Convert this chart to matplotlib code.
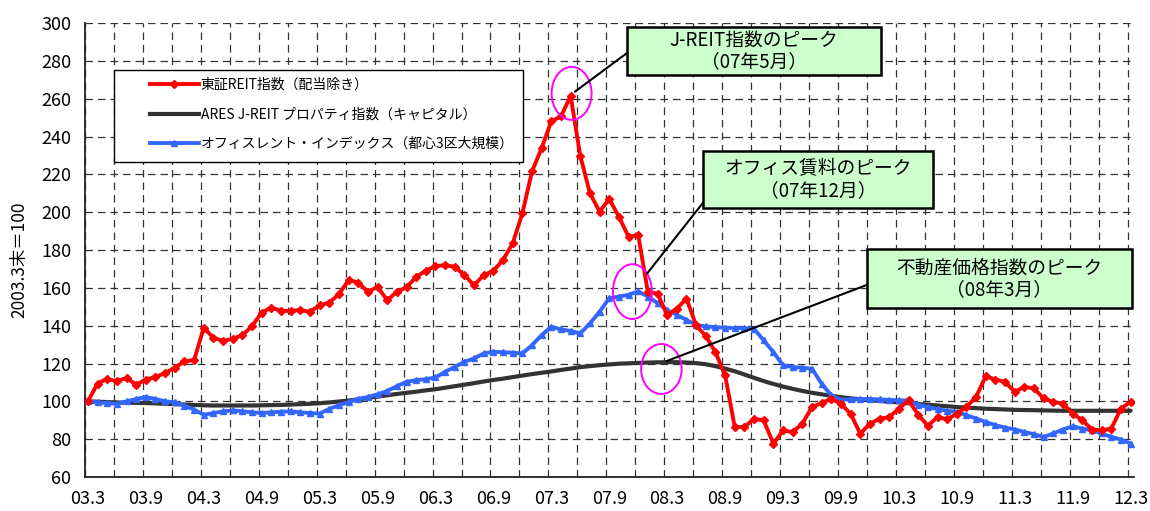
import numpy as np
import matplotlib
matplotlib.use('Agg')
import matplotlib.pyplot as plt
from matplotlib.patches import Ellipse, Rectangle
from matplotlib.lines import Line2D

plt.rcParams['font.family'] = ['Noto Sans CJK JP', 'DejaVu Sans']

# ---------------- data ----------------
tick_labels = ['03.3', '03.9', '04.3', '04.9', '05.3', '05.9', '06.3', '06.9', '07.3', '07.9',
               '08.3', '08.9', '09.3', '09.9', '10.3', '10.9', '11.3', '11.9', '12.3']
months = np.arange(109)  # monthly, 2003.3 .. 2012.3

series_names = ['東証REIT指数（配当除き）',
                'ARES J-REIT プロパティ指数（キャピタル）',
                'オフィスレント・インデックス（都心3区大規模）']

tse_reit = [100.0, 109.4, 111.9, 110.6, 112.4, 108.8, 111.5, 112.9, 115.0, 117.7,
            121.2, 121.8, 138.9, 133.6, 131.9, 133.1, 134.9, 139.8, 146.9, 149.6,
            147.8, 147.8, 148.3, 147.3, 150.8, 152.2, 156.6, 164.1, 162.8, 157.9,
            160.5, 153.5, 157.9, 160.2, 165.8, 169.0, 171.5, 172.0, 171.1, 166.7,
            161.4, 166.7, 169.0, 174.7, 183.5, 199.4, 221.5, 233.9, 248.0, 250.6,
            261.5, 229.8, 210.0, 200.3, 207.0, 197.6, 187.0, 187.9, 157.8, 157.0,
            145.5, 149.0, 154.3, 140.1, 134.5, 126.0, 113.7, 86.4, 86.4, 90.8,
            89.9, 77.6, 84.6, 83.8, 88.2, 97.0, 99.1, 101.4, 98.7, 93.4,
            82.9, 88.2, 90.8, 91.7, 96.1, 100.5, 92.9, 87.0, 91.8, 90.4,
            93.5, 97.1, 102.4, 113.3, 111.5, 110.3, 105.0, 107.7, 106.8, 101.5,
            99.7, 98.8, 93.5, 90.0, 85.1, 84.7, 85.6, 96.2, 99.7]

ares = [100.0, 99.8, 99.6, 99.4, 99.3, 99.2, 99.1, 98.9, 98.7, 98.5,
        98.3, 98.1, 97.9, 97.8, 97.8, 97.8, 97.8, 97.8, 97.9, 98.0,
        98.1, 98.3, 98.5, 98.7, 99.0, 99.4, 99.9, 100.4, 101.0, 101.8,
        102.5, 103.2, 103.9, 104.5, 105.1, 105.8, 106.4, 107.2, 108.0, 108.8,
        109.6, 110.5, 111.3, 112.0, 112.8, 113.6, 114.4, 115.1, 115.8, 116.6,
        117.3, 118.1, 118.6, 119.1, 119.5, 119.9, 120.1, 120.3, 120.5, 120.6,
        120.7, 120.7, 120.5, 120.2, 119.6, 118.6, 117.3, 115.9, 114.2, 112.4,
        110.7, 109.2, 107.8, 106.6, 105.5, 104.5, 103.7, 102.9, 102.2, 101.6,
        101.1, 100.6, 100.2, 99.8, 99.4, 99.0, 98.6, 98.2, 97.8, 97.4,
        97.0, 96.7, 96.4, 96.1, 95.9, 95.7, 95.5, 95.4, 95.3, 95.2,
        95.1, 95.0, 95.0, 95.0, 95.0, 95.0, 95.0, 95.0, 95.0]

office = [100.0, 99.5, 99.1, 98.6, 100.0, 101.2, 102.3, 101.2, 100.0, 99.5,
          97.7, 95.6, 92.9, 93.8, 94.7, 95.2, 94.7, 94.2, 93.8, 94.2,
          94.5, 94.7, 94.2, 93.8, 93.5, 96.0, 97.9, 99.6, 101.3, 102.3,
          103.7, 105.5, 108.0, 110.3, 111.2, 111.7, 112.6, 115.6, 118.2, 120.9,
          122.7, 125.3, 126.2, 126.0, 125.7, 125.3, 129.7, 135.0, 139.5, 138.0,
          137.2, 135.9, 141.2, 147.4, 154.5, 155.4, 156.3, 158.1, 155.4, 151.9,
          148.3, 145.7, 143.0, 140.4, 139.6, 139.2, 138.9, 138.7, 138.7, 138.3,
          132.2, 126.0, 119.0, 118.1, 117.8, 117.2, 109.3, 103.1, 100.8, 101.0,
          101.2, 101.2, 101.0, 100.8, 100.5, 100.5, 98.2, 97.0, 95.9, 95.0,
          94.4, 92.7, 90.9, 89.1, 87.4, 86.1, 85.1, 83.8, 82.6, 81.2,
          83.0, 85.1, 86.8, 85.6, 84.7, 83.0, 81.2, 79.8, 77.7]

# annotation texts
note_texts = ['J-REIT指数のピーク\n（07年5月）',
              'オフィス賃料のピーク\n（07年12月）',
              '不動産価格指数のピーク\n（08年3月）']

# ---------------- figure ----------------
fig = plt.figure(figsize=(11.5, 5.11), dpi=100)
ax = fig.add_axes([85 / 1150, 34 / 511, 1048.5 / 1150, 454 / 511])

RED = '#FF0000'
BLACK = '#333333'
BLUE = '#3366FF'

ax.plot(months, ares, color=BLACK, lw=3.0, zorder=3, solid_capstyle='round')
ax.plot(months, office, color=BLUE, lw=2.8, marker='^', ms=3.8, zorder=4)
ax.plot(months, tse_reit, color=RED, lw=2.8, marker='D', ms=3.8, zorder=5)

ax.set_xlim(-0.3, 108.3)
ax.set_ylim(60, 300)
ax.set_yticks(range(60, 301, 20))
ax.set_xticks(range(0, 109, 6))
ax.set_xticklabels(tick_labels)
ax.set_xticks(np.arange(37) * 3 - 0.3, minor=True)
ax.tick_params(which='both', length=0)
ax.tick_params(axis='y', pad=10, labelsize=13)
ax.tick_params(axis='x', pad=9, labelsize=13)

grid_kw = dict(color='#333333', lw=0.9, linestyle=(0, (6, 4)))
ax.grid(which='minor', axis='x', **grid_kw)
ax.grid(which='major', axis='y', **grid_kw)
ax.grid(which='major', axis='x', visible=False)
ax.set_axisbelow(True)

for s in ['top', 'right']:
    ax.spines[s].set_visible(False)
for s in ['left', 'bottom']:
    ax.spines[s].set_color('#222222')
    ax.spines[s].set_linewidth(1.3)

ax.set_ylabel('2003.3末＝100', fontsize=12.5)
ax.yaxis.set_label_coords(-0.0545, 0.478)

# ---------------- legend ----------------
handles = [Line2D([], [], color=RED, lw=2.8, marker='D', ms=4.5),
           Line2D([], [], color=BLACK, lw=3.0),
           Line2D([], [], color=BLUE, lw=2.8, marker='^', ms=4.5)]
leg = ax.legend(handles, series_names, loc='upper left', bbox_to_anchor=(0.062, 0.879),
                frameon=False, fontsize=10, handlelength=3.5, handletextpad=0.15,
                borderpad=0, borderaxespad=0, labelspacing=1.12, numpoints=1)
leg.set_zorder(11)
ax.add_patch(Rectangle((0.0277, 0.6938), 0.4177 - 0.0277, 0.8965 - 0.6938,
                       transform=ax.transAxes, facecolor='white', edgecolor='black',
                       lw=1.0, zorder=10))

# ---------------- annotations ----------------
ellipses = [((50.1, 262.8), 4.14, 28.0),
            ((56.4, 158.0), 4.04, 29.0),
            ((59.4, 117.1), 4.2, 26.4)]
for (c, w, h) in ellipses:
    ax.add_patch(Ellipse(c, w, h, fill=False, edgecolor='#FF00FF', lw=1.4, zorder=7))

connectors = [((50.45, 263.7), (55.8, 284.0)),
              ((57.94, 167.7), (64.26, 208.5)),
              ((59.95, 121.3), (80.66, 161.5))]
for p0, p1 in connectors:
    ax.annotate('', xy=p1, xytext=p0,
                arrowprops=dict(arrowstyle='-', lw=1.5, color='black', shrinkA=0, shrinkB=0),
                zorder=7, annotation_clip=False)

boxes = [(55.84, 82.14, 272.5, 297.9),
         (63.76, 87.53, 202.2, 232.3),
         (80.69, 108.14, 149.3, 180.5)]
for (x0, x1, y0, y1), t in zip(boxes, note_texts):
    ax.add_patch(Rectangle((x0, y0), x1 - x0, y1 - y0, facecolor='#CCFFCC',
                           edgecolor='black', lw=1.8, zorder=8, clip_on=False))
    ax.text((x0 + x1) / 2, (y0 + y1) / 2, t, ha='center', va='center',
            multialignment='center', fontsize=13.5, style='italic',
            linespacing=1.05, zorder=9, clip_on=False)

fig.savefig('out.png', dpi=100, facecolor='white')
